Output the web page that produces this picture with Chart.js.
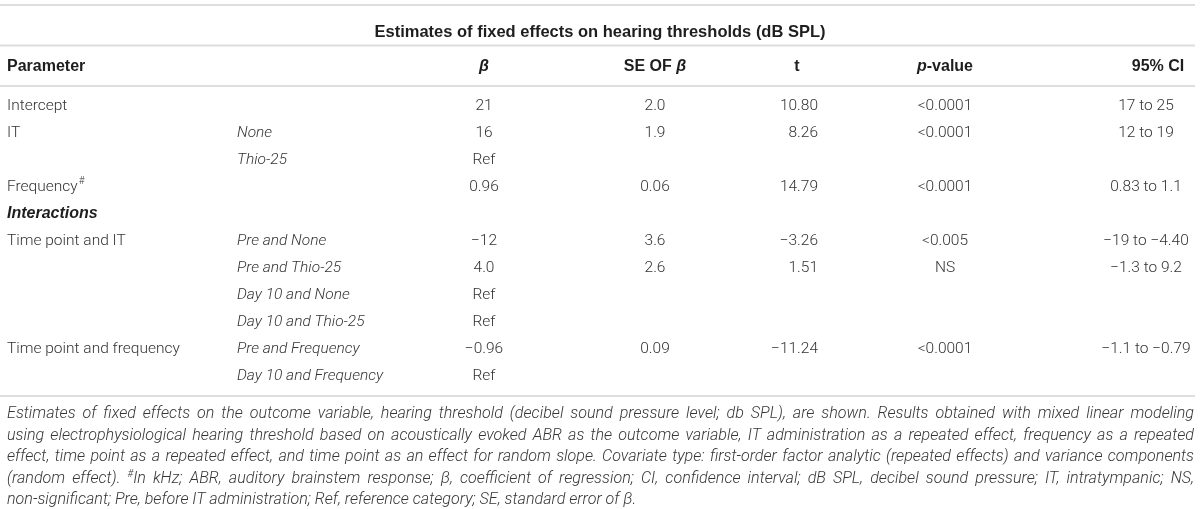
<!DOCTYPE html>
<html>
<head>
<meta charset="utf-8">
<script src="https://cdn.jsdelivr.net/npm/chart.js@4.4.1/dist/chart.umd.min.js"></script>
<style>
  html, body { margin: 0; padding: 0; background: #fff; }
  #wrap { position: relative; width: 1200px; height: 509px; overflow: hidden; }
  #table { position: absolute; left: 0; top: 0; }
  #note { position: absolute; left: 7px; width: 1187px; top: 402px; margin: 0;
          font: italic 300 16.1px/21.5px Roboto, "Liberation Sans", sans-serif; color: #363636; }
  #note div { text-align: justify; text-align-last: justify; white-space: nowrap; }
  #note div.last { text-align-last: left; }
  #note sup { font-size: 10px; line-height: 0; }
</style>
</head>
<body>
<div id="wrap">
  <canvas id="table" width="1200" height="509"></canvas>
  <div id="note">
    <div>Estimates of fixed effects on the outcome variable, hearing threshold (decibel sound pressure level; db SPL), are shown. Results obtained with mixed linear modeling</div>
    <div>using electrophysiological hearing threshold based on acoustically evoked ABR as the outcome variable, IT administration as a repeated effect, frequency as a repeated</div>
    <div>effect, time point as a repeated effect, and time point as an effect for random slope. Covariate type: first-order factor analytic (repeated effects) and variance components</div>
    <div>(random effect). <sup>#</sup>In kHz; ABR, auditory brainstem response; β, coefficient of regression; CI, confidence interval; dB SPL, decibel sound pressure; IT, intratympanic; NS,</div>
    <div class="last">non-significant; Pre, before IT administration; Ref, reference category; SE, standard error of β.</div>
  </div>
</div>
<script>
// table content
const tableTitle = "Estimates of fixed effects on hearing thresholds (dB SPL)";
const columnHeaders = ["Parameter", "", "β", "SE OF β", "t", "p-value", "95% CI"];
const rowLabels = ["Intercept", "IT", "", "Frequency#", "Interactions", "Time point and IT", "", "", "", "Time point and frequency", ""];
const levels = ["", "None", "Thio-25", "", "", "Pre and None", "Pre and Thio-25", "Day 10 and None", "Day 10 and Thio-25", "Pre and Frequency", "Day 10 and Frequency"];
const beta = ["21", "16", "Ref", "0.96", "", "−12", "4.0", "Ref", "Ref", "−0.96", "Ref"];
const seBeta = ["2.0", "1.9", "", "0.06", "", "3.6", "2.6", "", "", "0.09", ""];
const tValues = ["10.80", "8.26", "", "14.79", "", "−3.26", "1.51", "", "", "−11.24", ""];
const pValues = ["<0.0001", "<0.0001", "", "<0.0001", "", "<0.005", "NS", "", "", "<0.0001", ""];
const ci95 = ["17 to 25", "12 to 19", "", "0.83 to 1.1", "", "−19 to −4.40", "−1.3 to 9.2", "", "", "−1.1 to −0.79", ""];

const columns = [rowLabels, levels, beta, seBeta, tValues, pValues, ci95];
const rowKeys = rowLabels.map((_, i) => "row" + i);

// layout
const FONT = "Roboto, 'Liberation Sans', sans-serif";
const BOLD_FONT = "'Liberation Sans', Arial, sans-serif";
const colX = [7, 237, 484, 655, 818, 945, 1146];
const colAlign = ["left", "left", "center", "center", "right", "center", "center"];
const headerX = [7, 237, 484, 655, 797, 945, 1158];
const headerY = 67;
const ruleY = [5, 45.5, 86, 396];
const ink = "#333";

function runsFor(text) {
  // italic β and italic p in p-value
  if (text === "p-value") return [{ t: "p", it: true }, { t: "-value" }];
  return text.split(/(β)/).filter(s => s).map(s => ({ t: s, it: s === "β" }));
}

function drawRuns(ctx, runs, x, y, align, weight, size) {
  const fontOf = r => (r.it ? "italic " : "") + weight + " " + size + "px " + BOLD_FONT;
  let total = 0;
  runs.forEach(r => { ctx.font = fontOf(r); r.w = ctx.measureText(r.t).width; total += r.w; });
  let cx = align === "left" ? x : align === "right" ? x - total : x - total / 2;
  ctx.textAlign = "left";
  runs.forEach(r => { ctx.font = fontOf(r); ctx.fillText(r.t, cx, y); cx += r.w; });
}

const tablePlugin = {
  id: "tableText",
  afterDatasetsDraw(chart) {
    const ctx = chart.ctx;
    ctx.save();
    ctx.strokeStyle = "#dedede";
    ctx.lineWidth = 2;
    ruleY.forEach(y => {
      ctx.beginPath();
      ctx.moveTo(0, y);
      ctx.lineTo(1195, y);
      ctx.stroke();
    });

    ctx.textBaseline = "middle";
    ctx.fillStyle = "#1e1e1e";
    columnHeaders.forEach((h, c) => {
      if (!h) return;
      drawRuns(ctx, runsFor(h), headerX[c], headerY, c < 2 ? "left" : "center", "bold", 16);
    });

    chart.data.datasets.forEach((ds, c) => {
      const meta = chart.getDatasetMeta(c);
      meta.data.forEach((pt, i) => {
        let txt = columns[c][i];
        if (!txt) return;
        if (txt === "Interactions") {
          ctx.fillStyle = "#1e1e1e";
          ctx.font = "italic bold 16px " + BOLD_FONT;
        } else {
          ctx.fillStyle = ink;
          ctx.font = (c === 1 ? "italic 300" : "300") + " 15.5px " + FONT;
        }
        const sup = txt.endsWith("#");
        if (sup) txt = txt.slice(0, -1);
        const w = ctx.measureText(txt).width;
        let x = colAlign[c] === "left" ? pt.x : colAlign[c] === "right" ? pt.x - w : pt.x - w / 2;
        ctx.textAlign = "left";
        ctx.fillText(txt, x, pt.y);
        if (sup) {
          ctx.font = "300 10px " + FONT;
          ctx.fillText("#", x + w + 1, pt.y - 6);
        }
      });
    });
    ctx.restore();
  }
};

new Chart(document.getElementById("table"), {
  type: "scatter",
  data: {
    datasets: columns.map((col, c) => ({
      label: columnHeaders[c] || "Level",
      data: col.map((_, i) => ({ x: colX[c], y: rowKeys[i] })),
      pointRadius: 0,
      pointHoverRadius: 0
    }))
  },
  options: {
    responsive: false,
    animation: false,
    events: [],
    layout: { padding: { top: 0, left: 0, right: 0, bottom: 119.5 } },
    plugins: {
      legend: { display: false },
      tooltip: { enabled: false },
      title: {
        display: true,
        text: tableTitle,
        color: "#1e1e1e",
        font: { family: BOLD_FONT, size: 16.5, weight: "bold", lineHeight: 1.2 },
        padding: { top: 22.5, bottom: 50.2 }
      }
    },
    scales: {
      x: { type: "linear", display: false, min: 0, max: 1200 },
      y: { type: "category", labels: rowKeys, offset: true, display: false }
    }
  },
  plugins: [tablePlugin]
});
</script>
</body>
</html>
